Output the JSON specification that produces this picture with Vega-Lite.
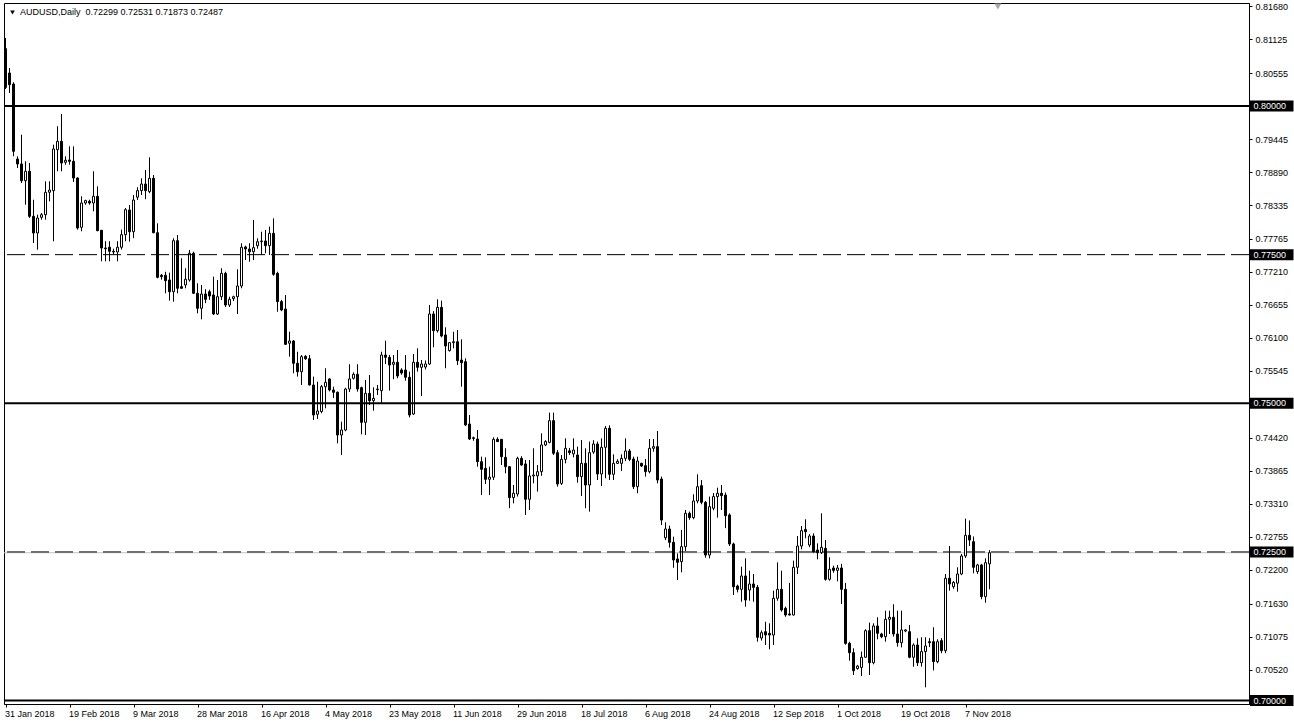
{
"$schema": "https://vega.github.io/schema/vega-lite/v6.json",
"autosize": "none",
"width": 1245,
"height": 701,
"padding": {"left": 4, "top": 3, "right": 45, "bottom": 23},
"background": "white",
"config": {
  "view": {"stroke": "black", "strokeWidth": 1},
  "font": "Liberation Sans",
  "scale": {"continuousPadding": 0},
  "axis": {"labelFont": "Liberation Sans", "labelFontSize": 9, "labelColor": "black", "tickColor": "black", "domainColor": "black", "grid": false, "title": null, "tickSize": 3, "labelFlush": false, "labelOverlap": false, "domainWidth": 1, "tickWidth": 1}
},
"datasets": {
  "levels": [
    {"p": 0.72487, "kind": "bid"},
    {"p": 0.8, "kind": "solid"},
    {"p": 0.775, "kind": "dash"},
    {"p": 0.75, "kind": "solid"},
    {"p": 0.725, "kind": "dash"},
    {"p": 0.7, "kind": "solid"}
  ],
  "candles": [
{"i":0,"o":0.80964,"h":0.81144,"l":0.80286,"c":0.80314},
{"i":1,"o":0.80555,"h":0.80639,"l":0.80219,"c":0.80358},
{"i":2,"o":0.80370,"h":0.80400,"l":0.79154,"c":0.79238},
{"i":3,"o":0.79109,"h":0.79154,"l":0.78957,"c":0.79025},
{"i":4,"o":0.79025,"h":0.79517,"l":0.78705,"c":0.78744},
{"i":5,"o":0.78744,"h":0.79070,"l":0.78340,"c":0.78902},
{"i":6,"o":0.78902,"h":0.79041,"l":0.78116,"c":0.78145},
{"i":7,"o":0.78145,"h":0.78424,"l":0.77696,"c":0.77864},
{"i":8,"o":0.77864,"h":0.78172,"l":0.77583,"c":0.78116},
{"i":9,"o":0.78128,"h":0.78200,"l":0.78088,"c":0.78172},
{"i":10,"o":0.78172,"h":0.78734,"l":0.78088,"c":0.78549},
{"i":11,"o":0.78549,"h":0.78734,"l":0.78397,"c":0.78587},
{"i":12,"o":0.78576,"h":0.79349,"l":0.77726,"c":0.79277},
{"i":13,"o":0.79265,"h":0.79659,"l":0.78902,"c":0.79406},
{"i":14,"o":0.79406,"h":0.79865,"l":0.78902,"c":0.79041},
{"i":15,"o":0.79053,"h":0.79154,"l":0.79013,"c":0.79087},
{"i":16,"o":0.79092,"h":0.79322,"l":0.79013,"c":0.79070},
{"i":17,"o":0.79070,"h":0.79322,"l":0.78722,"c":0.78789},
{"i":18,"o":0.78789,"h":0.78800,"l":0.77920,"c":0.77948},
{"i":19,"o":0.77960,"h":0.78481,"l":0.77893,"c":0.78369},
{"i":20,"o":0.78369,"h":0.78424,"l":0.78340,"c":0.78409},
{"i":21,"o":0.78397,"h":0.78424,"l":0.78340,"c":0.78369},
{"i":22,"o":0.78369,"h":0.78902,"l":0.78229,"c":0.78481},
{"i":23,"o":0.78481,"h":0.78649,"l":0.77893,"c":0.77904},
{"i":24,"o":0.77910,"h":0.77910,"l":0.77388,"c":0.77612},
{"i":25,"o":0.77612,"h":0.77726,"l":0.77388,"c":0.77600},
{"i":26,"o":0.77624,"h":0.77726,"l":0.77388,"c":0.77556},
{"i":27,"o":0.77556,"h":0.77600,"l":0.77500,"c":0.77545},
{"i":28,"o":0.77545,"h":0.77726,"l":0.77388,"c":0.77624},
{"i":29,"o":0.77624,"h":0.77920,"l":0.77585,"c":0.77836},
{"i":30,"o":0.77836,"h":0.78285,"l":0.77726,"c":0.78256},
{"i":31,"o":0.78251,"h":0.78335,"l":0.77718,"c":0.77886},
{"i":32,"o":0.77886,"h":0.78503,"l":0.77777,"c":0.78419},
{"i":33,"o":0.78466,"h":0.78634,"l":0.78419,"c":0.78577},
{"i":34,"o":0.78577,"h":0.78784,"l":0.78503,"c":0.78688},
{"i":35,"o":0.78688,"h":0.78924,"l":0.78433,"c":0.78577},
{"i":36,"o":0.78560,"h":0.79137,"l":0.78533,"c":0.78784},
{"i":37,"o":0.78784,"h":0.78840,"l":0.77860,"c":0.77869},
{"i":38,"o":0.77869,"h":0.78027,"l":0.77102,"c":0.77119},
{"i":39,"o":0.77153,"h":0.77175,"l":0.77080,"c":0.77130},
{"i":40,"o":0.77153,"h":0.77213,"l":0.76850,"c":0.77062},
{"i":41,"o":0.77074,"h":0.77197,"l":0.76726,"c":0.76877},
{"i":42,"o":0.76877,"h":0.77775,"l":0.76709,"c":0.77735},
{"i":43,"o":0.77735,"h":0.77831,"l":0.76850,"c":0.76934},
{"i":44,"o":0.76962,"h":0.77439,"l":0.76930,"c":0.76934},
{"i":45,"o":0.76990,"h":0.77271,"l":0.76934,"c":0.77086},
{"i":46,"o":0.77074,"h":0.77578,"l":0.77046,"c":0.77523},
{"i":47,"o":0.77523,"h":0.77550,"l":0.76840,"c":0.76850},
{"i":48,"o":0.76850,"h":0.77018,"l":0.76513,"c":0.76598},
{"i":49,"o":0.76598,"h":0.76990,"l":0.76413,"c":0.76838},
{"i":50,"o":0.76838,"h":0.76919,"l":0.76684,"c":0.76749},
{"i":51,"o":0.76877,"h":0.76910,"l":0.76740,"c":0.76805},
{"i":52,"o":0.76822,"h":0.77130,"l":0.76485,"c":0.76502},
{"i":53,"o":0.76502,"h":0.77074,"l":0.76485,"c":0.76793},
{"i":54,"o":0.76793,"h":0.77271,"l":0.76737,"c":0.77186},
{"i":55,"o":0.77186,"h":0.77213,"l":0.76620,"c":0.76653},
{"i":56,"o":0.76653,"h":0.76793,"l":0.76620,"c":0.76749},
{"i":57,"o":0.76760,"h":0.76810,"l":0.76720,"c":0.76793},
{"i":58,"o":0.76793,"h":0.77254,"l":0.76502,"c":0.76973},
{"i":59,"o":0.76973,"h":0.77691,"l":0.76934,"c":0.77624},
{"i":60,"o":0.77629,"h":0.77651,"l":0.77410,"c":0.77595},
{"i":61,"o":0.77595,"h":0.77691,"l":0.77381,"c":0.77549},
{"i":62,"o":0.77549,"h":0.78083,"l":0.77410,"c":0.77618},
{"i":63,"o":0.77651,"h":0.77775,"l":0.77600,"c":0.77718},
{"i":64,"o":0.77718,"h":0.77886,"l":0.77494,"c":0.77730},
{"i":65,"o":0.77730,"h":0.77915,"l":0.77523,"c":0.77651},
{"i":66,"o":0.77651,"h":0.77972,"l":0.77494,"c":0.77859},
{"i":67,"o":0.77859,"h":0.78111,"l":0.77146,"c":0.77169},
{"i":68,"o":0.77186,"h":0.77213,"l":0.76540,"c":0.76710},
{"i":69,"o":0.76710,"h":0.76740,"l":0.76550,"c":0.76569},
{"i":70,"o":0.76586,"h":0.76821,"l":0.75981,"c":0.75992},
{"i":71,"o":0.76010,"h":0.76204,"l":0.75784,"c":0.76048},
{"i":72,"o":0.76048,"h":0.76065,"l":0.75505,"c":0.75673},
{"i":73,"o":0.75673,"h":0.75868,"l":0.75449,"c":0.75531},
{"i":74,"o":0.75531,"h":0.75812,"l":0.75308,"c":0.75784},
{"i":75,"o":0.75790,"h":0.75810,"l":0.75730,"c":0.75750},
{"i":76,"o":0.75750,"h":0.75812,"l":0.75300,"c":0.75308},
{"i":77,"o":0.75308,"h":0.75449,"l":0.74719,"c":0.74803},
{"i":78,"o":0.74815,"h":0.75363,"l":0.74736,"c":0.74871},
{"i":79,"o":0.74860,"h":0.75308,"l":0.74833,"c":0.75279},
{"i":80,"o":0.75279,"h":0.75589,"l":0.74916,"c":0.75353},
{"i":81,"o":0.75409,"h":0.75420,"l":0.75200,"c":0.75224},
{"i":82,"o":0.75224,"h":0.75280,"l":0.75090,"c":0.75185},
{"i":83,"o":0.75185,"h":0.75200,"l":0.74327,"c":0.74467},
{"i":84,"o":0.74467,"h":0.74691,"l":0.74130,"c":0.74551},
{"i":85,"o":0.74551,"h":0.75260,"l":0.74530,"c":0.75240},
{"i":86,"o":0.75240,"h":0.75656,"l":0.75190,"c":0.75409},
{"i":87,"o":0.75420,"h":0.75520,"l":0.75400,"c":0.75488},
{"i":88,"o":0.75488,"h":0.75656,"l":0.75196,"c":0.75240},
{"i":89,"o":0.75263,"h":0.75280,"l":0.74478,"c":0.74680},
{"i":90,"o":0.74680,"h":0.75392,"l":0.74467,"c":0.75168},
{"i":91,"o":0.75168,"h":0.75476,"l":0.74971,"c":0.75044},
{"i":92,"o":0.75044,"h":0.75269,"l":0.74876,"c":0.75083},
{"i":93,"o":0.75230,"h":0.75308,"l":0.75140,"c":0.75240},
{"i":94,"o":0.75213,"h":0.75868,"l":0.75010,"c":0.75812},
{"i":95,"o":0.75812,"h":0.76053,"l":0.75661,"c":0.75773},
{"i":96,"o":0.75773,"h":0.75812,"l":0.75213,"c":0.75644},
{"i":97,"o":0.75656,"h":0.75812,"l":0.75405,"c":0.75690},
{"i":98,"o":0.75690,"h":0.75896,"l":0.75420,"c":0.75459},
{"i":99,"o":0.75560,"h":0.75590,"l":0.75480,"c":0.75510},
{"i":100,"o":0.75560,"h":0.75812,"l":0.75380,"c":0.75437},
{"i":101,"o":0.75437,"h":0.75532,"l":0.74764,"c":0.74803},
{"i":102,"o":0.74820,"h":0.75829,"l":0.74803,"c":0.75690},
{"i":103,"o":0.75690,"h":0.75925,"l":0.75532,"c":0.75605},
{"i":104,"o":0.75605,"h":0.75728,"l":0.75123,"c":0.75661},
{"i":105,"o":0.75610,"h":0.75720,"l":0.75570,"c":0.75661},
{"i":106,"o":0.75661,"h":0.76653,"l":0.75644,"c":0.76502},
{"i":107,"o":0.76502,"h":0.76550,"l":0.75942,"c":0.76221},
{"i":108,"o":0.76221,"h":0.76749,"l":0.76190,"c":0.76614},
{"i":109,"o":0.76614,"h":0.76726,"l":0.76110,"c":0.76132},
{"i":110,"o":0.76149,"h":0.76278,"l":0.75589,"c":0.75964},
{"i":111,"o":0.75886,"h":0.76030,"l":0.75870,"c":0.76020},
{"i":112,"o":0.76020,"h":0.76204,"l":0.75925,"c":0.76035},
{"i":113,"o":0.76035,"h":0.76233,"l":0.75644,"c":0.75717},
{"i":114,"o":0.75728,"h":0.76076,"l":0.75279,"c":0.75683},
{"i":115,"o":0.75700,"h":0.75757,"l":0.74620,"c":0.74635},
{"i":116,"o":0.74652,"h":0.74803,"l":0.74383,"c":0.74400},
{"i":117,"o":0.74420,"h":0.74440,"l":0.74370,"c":0.74410},
{"i":118,"o":0.74400,"h":0.74551,"l":0.73934,"c":0.74018},
{"i":119,"o":0.74018,"h":0.74102,"l":0.73458,"c":0.73890},
{"i":120,"o":0.73907,"h":0.74091,"l":0.73643,"c":0.73722},
{"i":121,"o":0.73722,"h":0.73934,"l":0.73458,"c":0.73757},
{"i":122,"o":0.73757,"h":0.74428,"l":0.73710,"c":0.74394},
{"i":123,"o":0.74394,"h":0.74428,"l":0.74350,"c":0.74356},
{"i":124,"o":0.74394,"h":0.74400,"l":0.73962,"c":0.74102},
{"i":125,"o":0.74091,"h":0.74243,"l":0.73823,"c":0.73934},
{"i":126,"o":0.73934,"h":0.73945,"l":0.73235,"c":0.73414},
{"i":127,"o":0.73414,"h":0.73626,"l":0.73318,"c":0.73487},
{"i":128,"o":0.73475,"h":0.74102,"l":0.73431,"c":0.74074},
{"i":129,"o":0.74074,"h":0.74110,"l":0.73950,"c":0.73962},
{"i":130,"o":0.73980,"h":0.74046,"l":0.73122,"c":0.73386},
{"i":131,"o":0.73386,"h":0.74046,"l":0.73206,"c":0.73778},
{"i":132,"o":0.73778,"h":0.74243,"l":0.73654,"c":0.73794},
{"i":133,"o":0.73780,"h":0.73962,"l":0.73515,"c":0.73850},
{"i":134,"o":0.73850,"h":0.74495,"l":0.73780,"c":0.74299},
{"i":135,"o":0.74299,"h":0.74380,"l":0.74280,"c":0.74356},
{"i":136,"o":0.74343,"h":0.74843,"l":0.74327,"c":0.74708},
{"i":137,"o":0.74708,"h":0.74843,"l":0.74130,"c":0.74159},
{"i":138,"o":0.74170,"h":0.74214,"l":0.73598,"c":0.73643},
{"i":139,"o":0.73654,"h":0.74130,"l":0.73626,"c":0.74057},
{"i":140,"o":0.74057,"h":0.74411,"l":0.73990,"c":0.74243},
{"i":141,"o":0.74200,"h":0.74250,"l":0.74130,"c":0.74170},
{"i":142,"o":0.74150,"h":0.74411,"l":0.74091,"c":0.74214},
{"i":143,"o":0.74130,"h":0.74271,"l":0.73665,"c":0.73767},
{"i":144,"o":0.73767,"h":0.74383,"l":0.73441,"c":0.73990},
{"i":145,"o":0.73990,"h":0.74243,"l":0.73235,"c":0.73626},
{"i":146,"o":0.73626,"h":0.74356,"l":0.73178,"c":0.74170},
{"i":147,"o":0.74180,"h":0.74380,"l":0.74150,"c":0.74316},
{"i":148,"o":0.74316,"h":0.74356,"l":0.73710,"c":0.73811},
{"i":149,"o":0.73811,"h":0.74411,"l":0.73609,"c":0.74260},
{"i":150,"o":0.74260,"h":0.74618,"l":0.73739,"c":0.74580},
{"i":151,"o":0.74580,"h":0.74630,"l":0.73710,"c":0.73806},
{"i":152,"o":0.73806,"h":0.74142,"l":0.73710,"c":0.73990},
{"i":153,"o":0.73990,"h":0.74060,"l":0.73980,"c":0.74024},
{"i":154,"o":0.73990,"h":0.74142,"l":0.73861,"c":0.74074},
{"i":155,"o":0.74074,"h":0.74411,"l":0.74029,"c":0.74198},
{"i":156,"o":0.74198,"h":0.74231,"l":0.74029,"c":0.74057},
{"i":157,"o":0.74063,"h":0.74102,"l":0.73559,"c":0.73598},
{"i":158,"o":0.73598,"h":0.74102,"l":0.73487,"c":0.74029},
{"i":159,"o":0.73990,"h":0.74000,"l":0.73930,"c":0.73945},
{"i":160,"o":0.73951,"h":0.74063,"l":0.73767,"c":0.73850},
{"i":161,"o":0.73850,"h":0.74400,"l":0.73823,"c":0.74243},
{"i":162,"o":0.74243,"h":0.74400,"l":0.74187,"c":0.74271},
{"i":163,"o":0.74271,"h":0.74534,"l":0.73654,"c":0.73710},
{"i":164,"o":0.73727,"h":0.73767,"l":0.72953,"c":0.73037},
{"i":165,"o":0.72739,"h":0.72999,"l":0.72700,"c":0.72886},
{"i":166,"o":0.72886,"h":0.72942,"l":0.72573,"c":0.72662},
{"i":167,"o":0.72662,"h":0.72757,"l":0.72235,"c":0.72365},
{"i":168,"o":0.72382,"h":0.72477,"l":0.72028,"c":0.72326},
{"i":169,"o":0.72337,"h":0.72870,"l":0.72158,"c":0.72589},
{"i":170,"o":0.72589,"h":0.73206,"l":0.72516,"c":0.73150},
{"i":171,"o":0.73150,"h":0.73180,"l":0.73040,"c":0.73077},
{"i":172,"o":0.73077,"h":0.73470,"l":0.73050,"c":0.73357},
{"i":173,"o":0.73357,"h":0.73806,"l":0.73318,"c":0.73598},
{"i":174,"o":0.73615,"h":0.73710,"l":0.73301,"c":0.73335},
{"i":175,"o":0.73335,"h":0.73357,"l":0.72403,"c":0.72448},
{"i":176,"o":0.72448,"h":0.73431,"l":0.72392,"c":0.73262},
{"i":177,"o":0.73235,"h":0.73490,"l":0.73200,"c":0.73431},
{"i":178,"o":0.73431,"h":0.73581,"l":0.73077,"c":0.73487},
{"i":179,"o":0.73487,"h":0.73626,"l":0.73206,"c":0.73447},
{"i":180,"o":0.73458,"h":0.73500,"l":0.72900,"c":0.73110},
{"i":181,"o":0.73122,"h":0.73150,"l":0.72600,"c":0.72634},
{"i":182,"o":0.72634,"h":0.72656,"l":0.71776,"c":0.71915},
{"i":183,"o":0.71927,"h":0.71950,"l":0.71820,"c":0.71871},
{"i":184,"o":0.71871,"h":0.72252,"l":0.71663,"c":0.72096},
{"i":185,"o":0.72096,"h":0.72392,"l":0.71579,"c":0.71692},
{"i":186,"o":0.71860,"h":0.72185,"l":0.71680,"c":0.71961},
{"i":187,"o":0.71961,"h":0.72129,"l":0.71663,"c":0.71905},
{"i":188,"o":0.71905,"h":0.71944,"l":0.70991,"c":0.71064},
{"i":189,"o":0.71053,"h":0.71180,"l":0.71010,"c":0.71142},
{"i":190,"o":0.71159,"h":0.71327,"l":0.70935,"c":0.71103},
{"i":191,"o":0.71131,"h":0.71300,"l":0.70863,"c":0.71103},
{"i":192,"o":0.71103,"h":0.71849,"l":0.70935,"c":0.71721},
{"i":193,"o":0.71721,"h":0.72325,"l":0.71680,"c":0.71872},
{"i":194,"o":0.71872,"h":0.72185,"l":0.71496,"c":0.71524},
{"i":195,"o":0.71552,"h":0.71580,"l":0.71410,"c":0.71440},
{"i":196,"o":0.71457,"h":0.71979,"l":0.71430,"c":0.71440},
{"i":197,"o":0.71440,"h":0.72354,"l":0.71430,"c":0.72242},
{"i":198,"o":0.72242,"h":0.72768,"l":0.72129,"c":0.72600},
{"i":199,"o":0.72600,"h":0.72937,"l":0.72544,"c":0.72858},
{"i":200,"o":0.72880,"h":0.73049,"l":0.72729,"c":0.72841},
{"i":201,"o":0.72617,"h":0.72800,"l":0.72580,"c":0.72768},
{"i":202,"o":0.72768,"h":0.72813,"l":0.72490,"c":0.72504},
{"i":203,"o":0.72533,"h":0.72645,"l":0.72376,"c":0.72488},
{"i":204,"o":0.72488,"h":0.73150,"l":0.72465,"c":0.72578},
{"i":205,"o":0.72561,"h":0.72701,"l":0.72017,"c":0.72040},
{"i":206,"o":0.72040,"h":0.72410,"l":0.72017,"c":0.72208},
{"i":207,"o":0.72230,"h":0.72270,"l":0.72150,"c":0.72190},
{"i":208,"o":0.72190,"h":0.72280,"l":0.72006,"c":0.72230},
{"i":209,"o":0.72230,"h":0.72300,"l":0.71624,"c":0.71872},
{"i":210,"o":0.71872,"h":0.71979,"l":0.70940,"c":0.70963},
{"i":211,"o":0.70963,"h":0.70990,"l":0.70672,"c":0.70806},
{"i":212,"o":0.70806,"h":0.70880,"l":0.70431,"c":0.70503},
{"i":213,"o":0.70540,"h":0.70600,"l":0.70520,"c":0.70580},
{"i":214,"o":0.70557,"h":0.70824,"l":0.70414,"c":0.70729},
{"i":215,"o":0.70729,"h":0.71200,"l":0.70720,"c":0.71176},
{"i":216,"o":0.71176,"h":0.71311,"l":0.70431,"c":0.70638},
{"i":217,"o":0.70638,"h":0.71300,"l":0.70610,"c":0.71255},
{"i":218,"o":0.71255,"h":0.71401,"l":0.71031,"c":0.71132},
{"i":219,"o":0.71120,"h":0.71140,"l":0.71050,"c":0.71075},
{"i":220,"o":0.71075,"h":0.71512,"l":0.70991,"c":0.71368},
{"i":221,"o":0.71368,"h":0.71512,"l":0.71120,"c":0.71401},
{"i":222,"o":0.71401,"h":0.71620,"l":0.71075,"c":0.71120},
{"i":223,"o":0.71120,"h":0.71512,"l":0.70907,"c":0.70974},
{"i":224,"o":0.70974,"h":0.71512,"l":0.70895,"c":0.71188},
{"i":225,"o":0.71170,"h":0.71200,"l":0.71150,"c":0.71188},
{"i":226,"o":0.71159,"h":0.71271,"l":0.70712,"c":0.70729},
{"i":227,"o":0.70729,"h":0.70963,"l":0.70571,"c":0.70935},
{"i":228,"o":0.70935,"h":0.71048,"l":0.70582,"c":0.70638},
{"i":229,"o":0.70638,"h":0.71065,"l":0.70571,"c":0.70824},
{"i":230,"o":0.70824,"h":0.71065,"l":0.70224,"c":0.70919},
{"i":231,"o":0.70991,"h":0.71050,"l":0.70900,"c":0.70974},
{"i":232,"o":0.70991,"h":0.71233,"l":0.70508,"c":0.70655},
{"i":233,"o":0.70655,"h":0.71031,"l":0.70628,"c":0.70991},
{"i":234,"o":0.71008,"h":0.71050,"l":0.70797,"c":0.70840},
{"i":235,"o":0.70840,"h":0.72129,"l":0.70797,"c":0.72057},
{"i":236,"o":0.72057,"h":0.72600,"l":0.71849,"c":0.71961},
{"i":237,"o":0.71915,"h":0.72010,"l":0.71880,"c":0.71989},
{"i":238,"o":0.71975,"h":0.72242,"l":0.71832,"c":0.72129},
{"i":239,"o":0.72129,"h":0.72466,"l":0.72110,"c":0.72432},
{"i":240,"o":0.72432,"h":0.73060,"l":0.72400,"c":0.72780},
{"i":241,"o":0.72780,"h":0.73030,"l":0.72600,"c":0.72700},
{"i":242,"o":0.72672,"h":0.72760,"l":0.72141,"c":0.72242},
{"i":243,"o":0.72169,"h":0.72300,"l":0.72130,"c":0.72281},
{"i":244,"o":0.72281,"h":0.72300,"l":0.71704,"c":0.71749},
{"i":245,"o":0.71749,"h":0.72393,"l":0.71646,"c":0.72320},
{"i":246,"o":0.72299,"h":0.72531,"l":0.71873,"c":0.72487}
  ]
},
"data": {"name": "candles"},
"layer": [
  {
    "data": {"name": "levels"},
    "transform": [{"filter": "datum.kind == 'bid'"}],
    "mark": {"type": "rule", "color": "#c0c0c0", "strokeWidth": 1},
    "encoding": {
      "y": {"field": "p", "type": "quantitative",
        "scale": {"domain": [0.699428, 0.817323], "nice": false, "zero": false, "padding": 0},
        "axis": {"orient": "right", "values": [0.8168, 0.81125, 0.80555, 0.79445, 0.7889, 0.78335, 0.77765, 0.7721, 0.76655, 0.761, 0.75545, 0.7442, 0.73865, 0.7331, 0.72755, 0.722, 0.7163, 0.71075, 0.7052], "format": ".5f", "labelAlign": "left", "labelBaseline": "middle", "labelPadding": 3, "labelOverlap": false, "labelBound": false}}
    }
  },
  {
    "mark": {"type": "rule", "color": "black", "strokeWidth": 1},
    "encoding": {
      "x": {"field": "i", "type": "quantitative",
        "scale": {"domain": [-0.375, 310.875], "nice": false, "zero": false, "padding": 0},
        "axis": {"values": [0, 16, 32, 48, 64, 80, 96, 112, 128, 144, 160, 176, 192, 208, 224, 240], "labelExpr": "['31 Jan 2018','19 Feb 2018','9 Mar 2018','28 Mar 2018','16 Apr 2018','4 May 2018','23 May 2018','11 Jun 2018','29 Jun 2018','18 Jul 2018','6 Aug 2018','24 Aug 2018','12 Sep 2018','1 Oct 2018','19 Oct 2018','7 Nov 2018'][round(datum.value / 16)]", "labelAlign": "left", "labelBaseline": "top", "labelPadding": 2, "labelOffset": -1, "labelOverlap": false}},
      "y": {"field": "l", "type": "quantitative",
        "axis": {"orient": "right", "values": [0.8168, 0.81125, 0.80555, 0.79445, 0.7889, 0.78335, 0.77765, 0.7721, 0.76655, 0.761, 0.75545, 0.7442, 0.73865, 0.7331, 0.72755, 0.722, 0.7163, 0.71075, 0.7052], "format": ".5f", "labelAlign": "left", "labelBaseline": "middle", "labelPadding": 3, "labelOverlap": false, "labelBound": false}},
      "y2": {"field": "h"}
    }
  },
  {
    "mark": {"type": "bar", "width": 2, "stroke": "black", "strokeWidth": 1},
    "encoding": {
      "x": {"field": "i", "type": "quantitative",
        "axis": {"values": [0, 16, 32, 48, 64, 80, 96, 112, 128, 144, 160, 176, 192, 208, 224, 240], "labelExpr": "['31 Jan 2018','19 Feb 2018','9 Mar 2018','28 Mar 2018','16 Apr 2018','4 May 2018','23 May 2018','11 Jun 2018','29 Jun 2018','18 Jul 2018','6 Aug 2018','24 Aug 2018','12 Sep 2018','1 Oct 2018','19 Oct 2018','7 Nov 2018'][round(datum.value / 16)]", "labelAlign": "left", "labelBaseline": "top", "labelPadding": 2, "labelOffset": -1, "labelOverlap": false}},
      "y": {"field": "o", "type": "quantitative",
        "axis": {"orient": "right", "values": [0.8168, 0.81125, 0.80555, 0.79445, 0.7889, 0.78335, 0.77765, 0.7721, 0.76655, 0.761, 0.75545, 0.7442, 0.73865, 0.7331, 0.72755, 0.722, 0.7163, 0.71075, 0.7052], "format": ".5f", "labelAlign": "left", "labelBaseline": "middle", "labelPadding": 3, "labelOverlap": false, "labelBound": false}},
      "y2": {"field": "c"},
      "fill": {"condition": {"test": "datum.c >= datum.o", "value": "white"}, "value": "black"}
    }
  },
  {
    "data": {"name": "levels"},
    "transform": [{"filter": "datum.kind == 'solid'"}],
    "mark": {"type": "rule", "color": "black", "strokeWidth": 2},
    "encoding": {"y": {"field": "p", "type": "quantitative",
        "axis": {"orient": "right", "values": [0.8168, 0.81125, 0.80555, 0.79445, 0.7889, 0.78335, 0.77765, 0.7721, 0.76655, 0.761, 0.75545, 0.7442, 0.73865, 0.7331, 0.72755, 0.722, 0.7163, 0.71075, 0.7052], "format": ".5f", "labelAlign": "left", "labelBaseline": "middle", "labelPadding": 3, "labelOverlap": false, "labelBound": false}}}
  },
  {
    "data": {"name": "levels"},
    "transform": [{"filter": "datum.kind == 'dash'"}],
    "mark": {"type": "rule", "color": "black", "strokeWidth": 1, "strokeDash": [18, 6]},
    "encoding": {"y": {"field": "p", "type": "quantitative",
        "axis": {"orient": "right", "values": [0.8168, 0.81125, 0.80555, 0.79445, 0.7889, 0.78335, 0.77765, 0.7721, 0.76655, 0.761, 0.75545, 0.7442, 0.73865, 0.7331, 0.72755, 0.722, 0.7163, 0.71075, 0.7052], "format": ".5f", "labelAlign": "left", "labelBaseline": "middle", "labelPadding": 3, "labelOverlap": false, "labelBound": false}}}
  },
  {
    "data": {"name": "levels"},
    "transform": [{"filter": "datum.kind != 'bid'"}],
    "mark": {"type": "bar", "height": 11, "color": "black", "orient": "horizontal"},
    "encoding": {
      "y": {"field": "p", "type": "quantitative",
        "axis": {"orient": "right", "values": [0.8168, 0.81125, 0.80555, 0.79445, 0.7889, 0.78335, 0.77765, 0.7721, 0.76655, 0.761, 0.75545, 0.7442, 0.73865, 0.7331, 0.72755, 0.722, 0.7163, 0.71075, 0.7052], "format": ".5f", "labelAlign": "left", "labelBaseline": "middle", "labelPadding": 3, "labelOverlap": false, "labelBound": false}},
      "x": {"datum": 311.125, "type": "quantitative",
        "axis": {"values": [0, 16, 32, 48, 64, 80, 96, 112, 128, 144, 160, 176, 192, 208, 224, 240], "labelExpr": "['31 Jan 2018','19 Feb 2018','9 Mar 2018','28 Mar 2018','16 Apr 2018','4 May 2018','23 May 2018','11 Jun 2018','29 Jun 2018','18 Jul 2018','6 Aug 2018','24 Aug 2018','12 Sep 2018','1 Oct 2018','19 Oct 2018','7 Nov 2018'][round(datum.value / 16)]", "labelAlign": "left", "labelBaseline": "top", "labelPadding": 2, "labelOffset": -1, "labelOverlap": false}},
      "x2": {"datum": 322.0}
    }
  },
  {
    "data": {"name": "levels"},
    "transform": [{"filter": "datum.kind != 'bid'"}],
    "mark": {"type": "text", "align": "left", "baseline": "middle", "color": "white", "font": "Liberation Sans", "fontSize": 9},
    "encoding": {
      "y": {"field": "p", "type": "quantitative",
        "axis": {"orient": "right", "values": [0.8168, 0.81125, 0.80555, 0.79445, 0.7889, 0.78335, 0.77765, 0.7721, 0.76655, 0.761, 0.75545, 0.7442, 0.73865, 0.7331, 0.72755, 0.722, 0.7163, 0.71075, 0.7052], "format": ".5f", "labelAlign": "left", "labelBaseline": "middle", "labelPadding": 3, "labelOverlap": false, "labelBound": false}},
      "x": {"datum": 312.0, "type": "quantitative",
        "axis": {"values": [0, 16, 32, 48, 64, 80, 96, 112, 128, 144, 160, 176, 192, 208, 224, 240], "labelExpr": "['31 Jan 2018','19 Feb 2018','9 Mar 2018','28 Mar 2018','16 Apr 2018','4 May 2018','23 May 2018','11 Jun 2018','29 Jun 2018','18 Jul 2018','6 Aug 2018','24 Aug 2018','12 Sep 2018','1 Oct 2018','19 Oct 2018','7 Nov 2018'][round(datum.value / 16)]", "labelAlign": "left", "labelBaseline": "top", "labelPadding": 2, "labelOffset": -1, "labelOverlap": false}},
      "text": {"field": "p", "type": "quantitative", "format": ".5f"}
    }
  },
  {
    "data": {"values": [{"lbl": "AUDUSD,Daily\u00a0\u00a00.72299 0.72531 0.71873 0.72487"}]},
    "mark": {"type": "point", "shape": "triangle-down", "filled": true, "color": "black", "size": 22, "opacity": 1},
    "encoding": {
      "x": {"datum": 1.75, "type": "quantitative",
        "axis": {"values": [0, 16, 32, 48, 64, 80, 96, 112, 128, 144, 160, 176, 192, 208, 224, 240], "labelExpr": "['31 Jan 2018','19 Feb 2018','9 Mar 2018','28 Mar 2018','16 Apr 2018','4 May 2018','23 May 2018','11 Jun 2018','29 Jun 2018','18 Jul 2018','6 Aug 2018','24 Aug 2018','12 Sep 2018','1 Oct 2018','19 Oct 2018','7 Nov 2018'][round(datum.value / 16)]", "labelAlign": "left", "labelBaseline": "top", "labelPadding": 2, "labelOffset": -1, "labelOverlap": false}},
      "y": {"datum": 0.81572, "type": "quantitative",
        "axis": {"orient": "right", "values": [0.8168, 0.81125, 0.80555, 0.79445, 0.7889, 0.78335, 0.77765, 0.7721, 0.76655, 0.761, 0.75545, 0.7442, 0.73865, 0.7331, 0.72755, 0.722, 0.7163, 0.71075, 0.7052], "format": ".5f", "labelAlign": "left", "labelBaseline": "middle", "labelPadding": 3, "labelOverlap": false, "labelBound": false}}
    }
  },
  {
    "data": {"values": [{"lbl": "AUDUSD,Daily\u00a0\u00a00.72299 0.72531 0.71873 0.72487"}]},
    "mark": {"type": "text", "align": "left", "baseline": "middle", "color": "black", "font": "Liberation Sans", "fontSize": 9},
    "encoding": {
      "x": {"datum": 3.6, "type": "quantitative",
        "axis": {"values": [0, 16, 32, 48, 64, 80, 96, 112, 128, 144, 160, 176, 192, 208, 224, 240], "labelExpr": "['31 Jan 2018','19 Feb 2018','9 Mar 2018','28 Mar 2018','16 Apr 2018','4 May 2018','23 May 2018','11 Jun 2018','29 Jun 2018','18 Jul 2018','6 Aug 2018','24 Aug 2018','12 Sep 2018','1 Oct 2018','19 Oct 2018','7 Nov 2018'][round(datum.value / 16)]", "labelAlign": "left", "labelBaseline": "top", "labelPadding": 2, "labelOffset": -1, "labelOverlap": false}},
      "y": {"datum": 0.81581, "type": "quantitative",
        "axis": {"orient": "right", "values": [0.8168, 0.81125, 0.80555, 0.79445, 0.7889, 0.78335, 0.77765, 0.7721, 0.76655, 0.761, 0.75545, 0.7442, 0.73865, 0.7331, 0.72755, 0.722, 0.7163, 0.71075, 0.7052], "format": ".5f", "labelAlign": "left", "labelBaseline": "middle", "labelPadding": 3, "labelOverlap": false, "labelBound": false}},
      "text": {"field": "lbl"}
    }
  },
  {
    "data": {"values": [{"lbl": "shift"}]},
    "mark": {"type": "point", "shape": "triangle-down", "filled": true, "color": "#a8a8a8", "size": 50, "opacity": 1},
    "encoding": {
      "x": {"datum": 248.1, "type": "quantitative",
        "axis": {"values": [0, 16, 32, 48, 64, 80, 96, 112, 128, 144, 160, 176, 192, 208, 224, 240], "labelExpr": "['31 Jan 2018','19 Feb 2018','9 Mar 2018','28 Mar 2018','16 Apr 2018','4 May 2018','23 May 2018','11 Jun 2018','29 Jun 2018','18 Jul 2018','6 Aug 2018','24 Aug 2018','12 Sep 2018','1 Oct 2018','19 Oct 2018','7 Nov 2018'][round(datum.value / 16)]", "labelAlign": "left", "labelBaseline": "top", "labelPadding": 2, "labelOffset": -1, "labelOverlap": false}},
      "y": {"datum": 0.81673, "type": "quantitative",
        "axis": {"orient": "right", "values": [0.8168, 0.81125, 0.80555, 0.79445, 0.7889, 0.78335, 0.77765, 0.7721, 0.76655, 0.761, 0.75545, 0.7442, 0.73865, 0.7331, 0.72755, 0.722, 0.7163, 0.71075, 0.7052], "format": ".5f", "labelAlign": "left", "labelBaseline": "middle", "labelPadding": 3, "labelOverlap": false, "labelBound": false}}
    }
  }
]
}
